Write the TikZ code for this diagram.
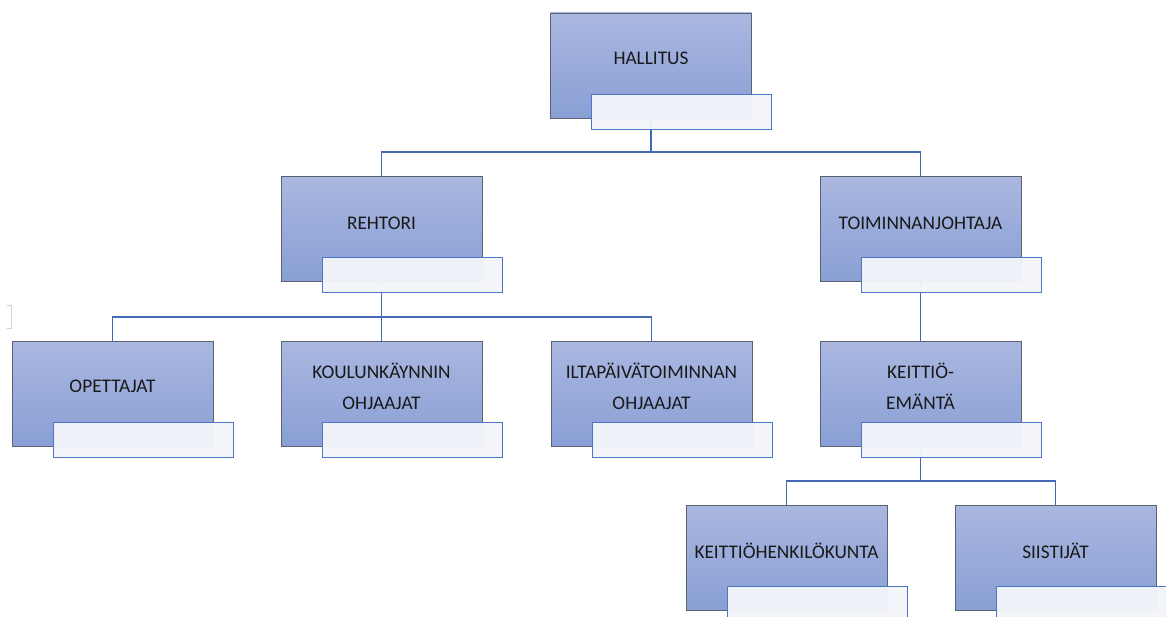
\documentclass[tikz,border=0pt]{standalone}
\usepackage{fontspec}
\setmainfont{Carlito}
\definecolor{boxtop}{RGB}{170,183,224}
\definecolor{boxbot}{RGB}{137,159,213}
\definecolor{boxedge}{RGB}{92,98,114}
\definecolor{tagfill}{RGB}{243,245,250}
\definecolor{tagedge}{RGB}{78,118,200}
\definecolor{wire}{RGB}{68,104,180}
\definecolor{ink}{RGB}{25,25,25}
\tikzset{
  unit/.style={rectangle, minimum width=201pt, minimum height=105pt, inner sep=0pt, outer sep=0pt,
    top color=boxtop, bottom color=boxbot, draw=boxedge, line width=0.9pt},
  tag/.style={rectangle, minimum width=180pt, minimum height=35pt, inner sep=0pt, outer sep=0pt,
    fill=tagfill, fill opacity=0.96, draw=tagedge, line width=0.9pt},
  caption/.style={text=ink, align=center, font=\fontsize{19.3}{31}\selectfont, inner sep=0pt},
  link/.style={draw=wire, line width=1.6pt}
}
\begin{document}
\begin{tikzpicture}[x=1pt,y=-1pt]
\useasboundingbox (0,0) rectangle (1166,617);
\clip (0,0) rectangle (1166,617);

% org units
\node[unit] (hall) at (651,65.5) {};
\node[unit] (rehtori) at (381.5,229) {};
\node[unit] (toim) at (920.5,229) {};
\node[unit] (opet) at (112.5,394) {};
\node[unit] (koul) at (381.5,394) {};
\node[unit] (ilta) at (651.5,394) {};
\node[unit] (emanta) at (920.5,394) {};
\node[unit] (henk) at (786.5,558) {};
\node[unit] (siisti) at (1055.5,558) {};

% connectors (drawn beneath the boxes' name tags)
\coordinate (bus1) at (651,152);
\coordinate (bus2) at (381.5,317);
\coordinate (bus3) at (920.5,481);
\draw[link] (hall.south) -- (bus1) -| (rehtori.north);
\draw[link] (bus1) -| (toim.north);
\draw[link] (rehtori.south) -- (bus2) -| (opet.north);
\draw[link] (bus2) -- (koul.north);
\draw[link] (bus2) -| (ilta.north);
\draw[link] (toim.south) -- (emanta.north);
\draw[link] (emanta.south) -- (bus3) -| (henk.north);
\draw[link] (bus3) -| (siisti.north);

% name tags
\foreach \b in {hall,rehtori,toim,opet,koul,ilta,emanta,henk,siisti}
  \node[tag] (\b-tag) at ([shift={(30.5,46)}]\b.center) {};

% titles
\node[caption] (hall-t) at ([shift={(0,-7.5)}]hall.center) {HALLITUS};
\node[caption] (rehtori-t) at ([shift={(0,-6)}]rehtori.center) {REHTORI};
\node[caption] (toim-t) at ([shift={(0,-6)}]toim.center) {TOIMINNANJOHTAJA};
\node[caption] (opet-t) at ([shift={(0,-8)}]opet.center) {OPETTAJAT};
\node[caption] (koul-t) at ([shift={(0,-7.5)}]koul.center) {KOULUNKÄYNNIN\\OHJAAJAT};
\node[caption] (ilta-t) at ([shift={(0,-7.5)}]ilta.center) {ILTAPÄIVÄTOIMINNAN\\OHJAAJAT};
\node[caption] (emanta-t) at ([shift={(0,-7.5)}]emanta.center) {KEITTIÖ-\\EMÄNTÄ};
\node[caption] (henk-t) at ([shift={(0,-7)}]henk.center) {KEITTIÖHENKILÖKUNTA};
\node[caption] (siisti-t) at ([shift={(0,-7)}]siisti.center) {SIISTIJÄT};

% small bracket mark at the left margin
\draw[black!18, line width=1pt] (7,306) -- (11,306) -- (11,328) -- (7,328);
\end{tikzpicture}
\end{document}
